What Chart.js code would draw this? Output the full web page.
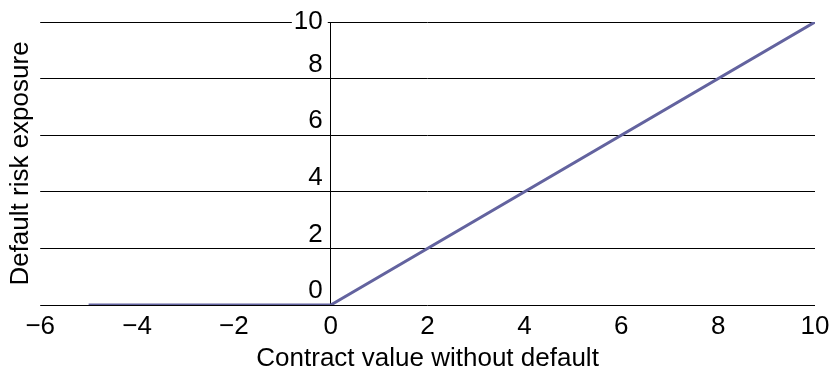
<!DOCTYPE html>
<html>
<head>
<meta charset="utf-8">
<script src="https://cdn.jsdelivr.net/npm/chart.js@4"></script>
<style>
  html, body { margin: 0; padding: 0; background: #fff; }
  #wrap { width: 831px; height: 372px; }
</style>
</head>
<body>
<div id="wrap"><canvas id="exposureChart" width="831" height="372"></canvas></div>
<script>
// data
var contractValues = [-5, 0, 10];
var exposureValues = [0, 0, 10];
var xTicks = [-6, -4, -2, 0, 2, 4, 6, 8, 10];
var yTicks = [0, 2, 4, 6, 8, 10];

var FONT = '"Liberation Sans", Arial, Helvetica, sans-serif';
var minus = function (v) { return String(v).replace('-', '\u2212'); };

// y tick labels sit above their grid line, except the top one which sits on it
var yLabels = {
    id: 'yLabels',
    afterDraw: function (chart) {
        var c = chart.ctx, ys = chart.scales.y, xs = chart.scales.x;
        var right = xs.getPixelForValue(0) - 8;
        c.save();
        c.font = '26px ' + FONT;
        c.textAlign = 'right';
        c.textBaseline = 'middle';
        yTicks.forEach(function (v) {
            var y = ys.getPixelForValue(v);
            if (v === ys.max) {
                var w = c.measureText(String(v)).width;
                c.fillStyle = '#fff';
                c.fillRect(right - w - 2, y - 12, w + 7, 24);
            } else {
                y -= 14;
            }
            c.fillStyle = '#000';
            c.fillText(String(v), right, y);
        });
        c.restore();
    }
};

var ctx = document.getElementById('exposureChart').getContext('2d');
var exposureChart = new Chart(ctx, {
    type: 'scatter',
    data: {
        datasets: [{
            data: contractValues.map(function (x, i) { return { x: x, y: exposureValues[i] }; }),
            showLine: true,
            borderColor: '#63639f',
            borderWidth: 3,
            pointRadius: 0,
            fill: false
        }]
    },
    options: {
        responsive: false,
        animation: false,
        layout: { padding: { top: 22, left: 2, right: 0, bottom: 0 } },
        plugins: { legend: { display: false }, tooltip: { enabled: false } },
        scales: {
            x: {
                type: 'linear',
                min: xTicks[0],
                max: xTicks[xTicks.length - 1],
                afterBuildTicks: function (s) { s.ticks = xTicks.map(function (v) { return { value: v }; }); },
                afterFit: function (s) { s.paddingRight = 16; s.height -= 10; },
                grid: { display: false, drawTicks: false },
                border: { display: false },
                ticks: {
                    color: '#000',
                    padding: 9,
                    maxRotation: 0,
                    font: { family: FONT, size: 26, lineHeight: 1 },
                    callback: minus
                },
                title: {
                    display: true,
                    text: 'Contract value without default',
                    color: '#000',
                    font: { family: FONT, size: 26, lineHeight: 1 },
                    padding: { top: 7, bottom: 0 }
                }
            },
            y: {
                type: 'linear',
                position: { x: 0 },
                min: yTicks[0],
                max: yTicks[yTicks.length - 1],
                afterBuildTicks: function (s) { s.ticks = yTicks.map(function (v) { return { value: v }; }); },
                grid: { color: '#000', lineWidth: 1, drawTicks: false },
                border: { display: true, color: '#000', width: 1 },
                ticks: { display: false }
            },
            yTitle: {
                type: 'linear',
                axis: 'y',
                position: 'left',
                min: 0,
                max: 10,
                grid: { display: false, drawTicks: false },
                border: { display: false },
                ticks: { display: false },
                title: {
                    display: true,
                    text: 'Default risk exposure',
                    color: '#000',
                    font: { family: FONT, size: 26, lineHeight: 1.2 },
                    padding: { top: 3, bottom: 4 }
                }
            }
        }
    },
    plugins: [yLabels]
});
</script>
</body>
</html>
